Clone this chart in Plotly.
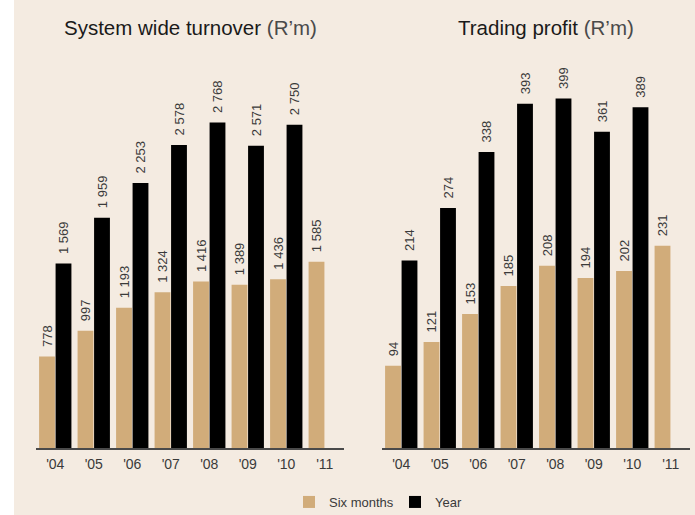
import plotly.graph_objects as go

years = ["'04", "'05", "'06", "'07", "'08", "'09", "'10", "'11"]
turnover_six = [778, 997, 1193, 1324, 1416, 1389, 1436, 1585]
turnover_year = [1569, 1959, 2253, 2578, 2768, 2571, 2750, None]
profit_six = [94, 121, 153, 185, 208, 194, 202, 231]
profit_year = [214, 274, 338, 393, 399, 361, 389, None]

GOLD = "#d1ac7a"
BLACK = "#000000"
BG = "#f4ebe1"
TXT = "#3a3a3a"
FONT = "Liberation Sans, Arial, Helvetica, sans-serif"


def fmt(v):
    # leading en space gives the extra gap above the bar seen in the original
    return "" if v is None else "\u2002" + f"{v:,}".replace(",", " ")


fig = go.Figure()


def add_pair(six, year, xa, ya, show):
    for vals, name, col in ((six, "Six months", GOLD), (year, "Year", BLACK)):
        fig.add_trace(go.Bar(x=years, y=vals, name=name, marker_color=col,
                             marker_line_width=0, text=[fmt(v) for v in vals],
                             textposition="outside", textangle=-90, cliponaxis=False,
                             constraintext="none", hoverinfo="skip",
                             textfont=dict(size=13, color=TXT, family=FONT),
                             xaxis=xa, yaxis=ya, showlegend=show))


add_pair(turnover_six, turnover_year, "x", "y", True)
add_pair(profit_six, profit_year, "x2", "y2", False)

L, R, T, B = 36, 5, 60, 67
W, H = 695, 515
pw = W - L - R
ph = H - T - B

xcommon = dict(type="category", showline=True, linecolor="#4a4a4a", linewidth=2,
               ticks="", showgrid=False, zeroline=False, ticklabelstandoff=2,
               automargin=False,
               tickfont=dict(size=14, color=TXT, family=FONT))
ycommon = dict(visible=False, showgrid=False, zeroline=False, automargin=False)

fig.update_layout(
    width=W, height=H,
    margin=dict(l=L, r=R, t=T, b=B, autoexpand=False),
    paper_bgcolor=BG, plot_bgcolor=BG,
    barmode="group", bargap=0.143, bargroupgap=0.04,
    font=dict(family=FONT, color=TXT),
    xaxis=dict(domain=[0, (344 - L) / pw], anchor="y", **xcommon),
    xaxis2=dict(domain=[(382 - L) / pw, 1], anchor="y2", **xcommon),
    yaxis=dict(range=[0, 3300], anchor="x", **ycommon),
    yaxis2=dict(range=[0, 443], anchor="x2", **ycommon),
    legend=dict(orientation="h", x=(289 - L) / pw, xanchor="left",
                y=-(502 - (T + ph)) / ph, yanchor="middle",
                font=dict(size=13, color=TXT, family=FONT),
                bgcolor="rgba(0,0,0,0)", entrywidth=61, itemwidth=30,
                traceorder="normal"),
    annotations=[
        dict(text="<span style='color:#1a1a1a'>System wide turnover</span> <span style='color:#4a4a4a'>(R’m)</span>",
             x=(190 - L) / pw, y=(T - 27) / ph + 1, xref="paper", yref="paper",
             xanchor="center", yanchor="middle", showarrow=False,
             font=dict(size=20.5, family=FONT)),
        dict(text="<span style='color:#1a1a1a'>Trading profit</span> <span style='color:#4a4a4a'>(R’m)</span>",
             x=(546 - L) / pw, y=(T - 27) / ph + 1, xref="paper", yref="paper",
             xanchor="center", yanchor="middle", showarrow=False,
             font=dict(size=20.5, family=FONT)),
    ],
    shapes=[
        dict(type="rect", xref="paper", yref="paper",
             x0=-L / pw - 0.01, x1=(14 - L) / pw, y0=-B / ph - 0.01, y1=1 + T / ph + 0.01,
             fillcolor="white", line_width=0, layer="below"),
    ],
)

fig.write_html("out.html", config={"displayModeBar": False},
               post_script="document.body.style.margin='0';document.body.style.overflow='hidden';")
